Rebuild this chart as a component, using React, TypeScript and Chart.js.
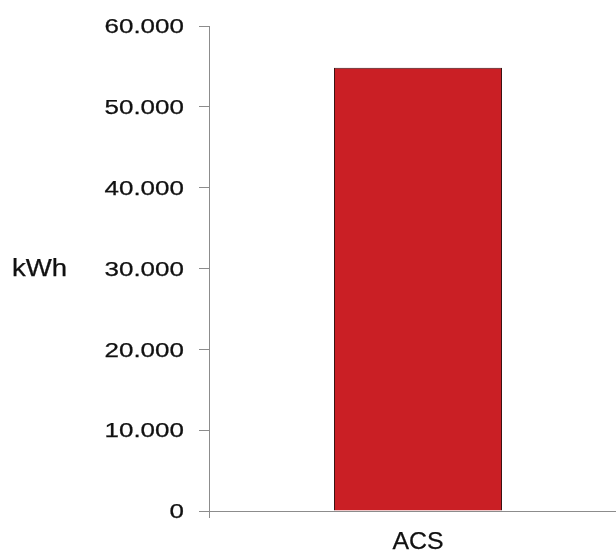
import React, { useEffect, useRef } from "react";
import { Chart, registerables } from "chart.js";

Chart.register(...registerables);

const categories = ["ACS"];
const seriesValues = [54850];
const yTickValues = [0, 10000, 20000, 30000, 40000, 50000, 60000];
const yAxisLabel = "kWh";

function fmt(v: number): string {
  return String(v).replace(/\B(?=(\d{3})+(?!\d))/g, ".");
}

function drawStretched(ctx: CanvasRenderingContext2D, text: string, x: number, y: number, sx: number) {
  ctx.save();
  ctx.translate(x, y);
  ctx.scale(sx, 1);
  ctx.fillText(text, 0, 0);
  ctx.lineWidth = 0.25;
  ctx.strokeText(text, 0, 0);
  ctx.restore();
}

const textPlugin = {
  id: "stretchedText",
  afterDraw(chart: any) {
    const ctx = chart.ctx as CanvasRenderingContext2D;
    const y = chart.scales.y;
    const x = chart.scales.x;
    ctx.save();
    ctx.fillStyle = "#111111";
    ctx.strokeStyle = "#111111";
    ctx.textBaseline = "alphabetic";
    // y tick labels
    ctx.font = "20px 'Liberation Sans', Arial, sans-serif";
    ctx.textAlign = "right";
    y.ticks.forEach((t: any, i: number) => {
      const py = y.getPixelForTick(i);
      drawStretched(ctx, fmt(t.value), 184, py + 7.3, 1.3);
    });
    // x tick labels
    ctx.font = "23px 'Liberation Sans', Arial, sans-serif";
    ctx.textAlign = "center";
    x.ticks.forEach((t: any, i: number) => {
      const px = x.getPixelForTick(i);
      drawStretched(ctx, String(chart.data.labels[i]), px, 549.3, 1.08);
    });
    // axis title
    ctx.textAlign = "left";
    drawStretched(ctx, yAxisLabel, 12, 275.7, 1.2);
    ctx.restore();
  },
};

export default function App() {
  const ref = useRef<HTMLCanvasElement | null>(null);
  useEffect(() => {
    if (!ref.current) return;
    const chart = new Chart(ref.current, {
      type: "bar",
      data: {
        labels: categories,
        datasets: [
          {
            data: seriesValues,
            backgroundColor: "#CA1F25",
            borderColor: "#3a1414",
            borderWidth: 1,
            categoryPercentage: 1,
            barPercentage: 0.402,
          },
        ],
      },
      options: {
        responsive: false,
        animation: false,
        devicePixelRatio: 1,
        layout: { padding: { left: 199, right: 13, top: 26, bottom: 33 } },
        plugins: { legend: { display: false }, tooltip: { enabled: false } },
        scales: {
          x: {
            ticks: { display: false },
            grid: {
              drawOnChartArea: false,
              tickLength: 7,
              color: "#8c8c8c",
              offset: true,
            },
            border: { color: "#8c8c8c", width: 1 },
          },
          y: {
            min: 0,
            max: 60000,
            afterBuildTicks: (scale: any) => {
              scale.ticks = yTickValues.map((v) => ({ value: v }));
            },
            ticks: { display: false },
            grid: {
              drawOnChartArea: false,
              tickLength: 10,
              color: "#8c8c8c",
            },
            border: { color: "#8c8c8c", width: 1 },
          },
        },
      },
      plugins: [textPlugin],
    });
    return () => chart.destroy();
  }, []);
  return (
    <div
      style={{
        position: "fixed",
        left: 0,
        top: 0,
        width: 616,
        height: 551,
        overflow: "hidden",
        background: "#ffffff",
      }}
    >
      <canvas ref={ref} width={640} height={551} style={{ display: "block" }} />
    </div>
  );
}
